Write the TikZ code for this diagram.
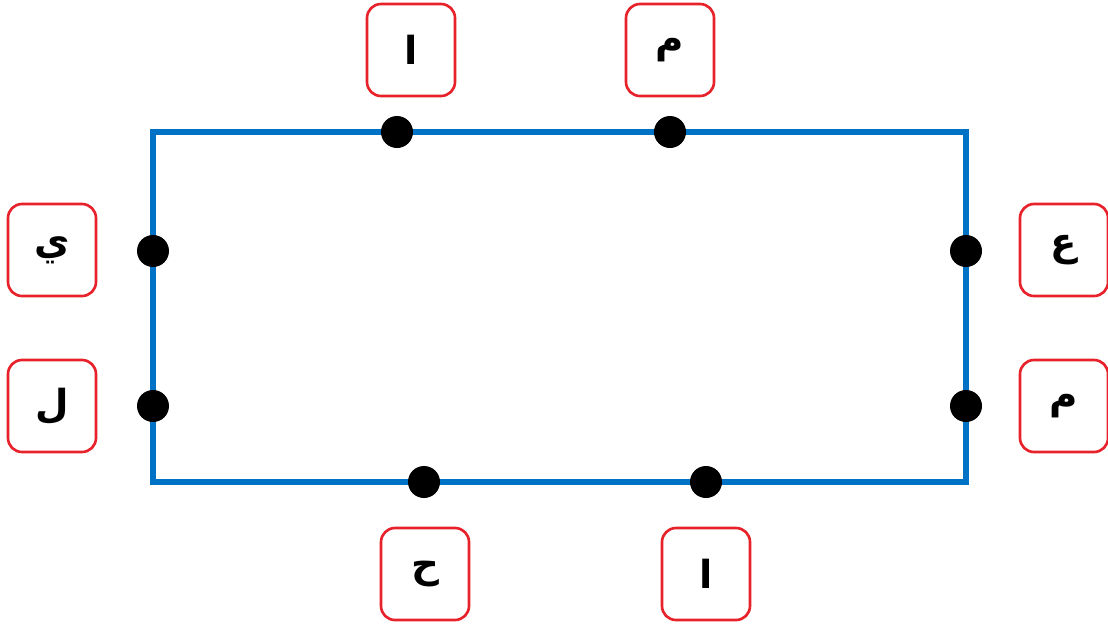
\documentclass[tikz,border=0pt]{standalone}
\usepackage{fontspec}
\usepackage{tikz}
\usetikzlibrary{positioning}
\TeXXeTstate=1
\newfontfamily\arabicfont[Script=Arabic]{DejaVu Sans}
\definecolor{frameblue}{RGB}{0,114,198}
\definecolor{boxred}{RGB}{232,34,42}

\begin{document}
\begin{tikzpicture}[
  letterbox/.style={rectangle, draw=boxred, line width=1.5pt, rounded corners=0.28cm, minimum width=1.76cm, minimum height=1.84cm, inner sep=0pt, font=\arabicfont\bfseries\fontsize{22}{26}\selectfont},
  pin/.style={circle, fill=black, minimum size=0.64cm, inner sep=0pt}
]
\useasboundingbox (0,0) rectangle (22.16,-12.52);
\fill[white] (0,0) rectangle (22.16,-12.52);

\draw[frameblue, line width=2.9pt] (3.06,-2.64) rectangle (19.32,-9.64);

\node[pin] (t1) at (7.94, -2.64) {};
\node[pin] (t2) at (13.40, -2.64) {};
\node[pin] (l1) at (3.06, -5.02) {};
\node[pin] (l2) at (3.06, -8.12) {};
\node[pin] (r1) at (19.32, -5.02) {};
\node[pin] (r2) at (19.32, -8.12) {};
\node[pin] (b1) at (8.48, -9.64) {};
\node[pin] (b2) at (14.12, -9.64) {};

\node[letterbox] (alif1) at (8.22, -1.00) {\beginR ا\endR};
\node[letterbox] (mim1) at (13.40, -1.00) {\beginR م\endR};
\node[letterbox] (ya) at (1.04, -5.00) {\beginR ي\endR};
\node[letterbox] (lam) at (1.04, -8.12) {\beginR ل\endR};
\node[letterbox] (ain) at (21.28, -5.00) {\beginR ع\endR};
\node[letterbox] (mim2) at (21.28, -8.12) {\beginR م\endR};
\node[letterbox] (ha) at (8.50, -11.48) {\beginR ح\endR};
\node[letterbox] (alif2) at (14.12, -11.48) {\beginR ا\endR};
\end{tikzpicture}
\end{document}
